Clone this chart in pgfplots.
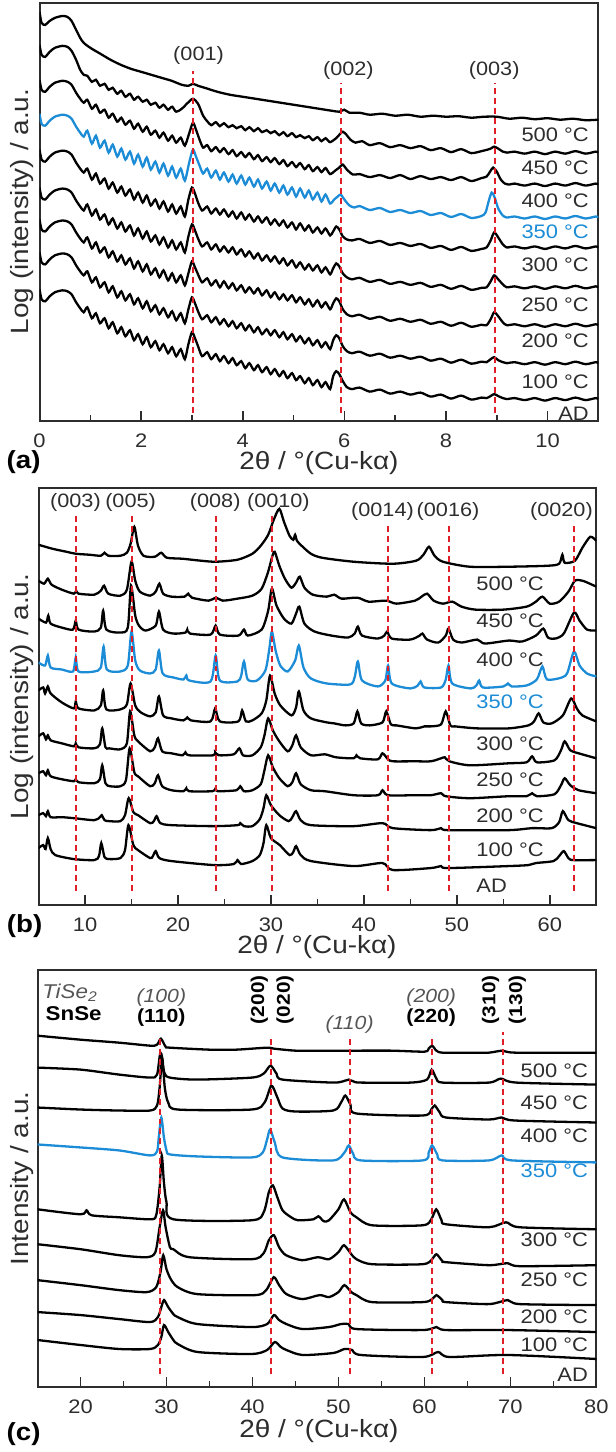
\documentclass[border=0pt]{standalone}
\usepackage{fontspec}
\setmainfont{Liberation Sans}[FakeStretch=1.12]
\usepackage{pgfplots}
\pgfplotsset{compat=1.18}
\definecolor{cblue}{RGB}{28,140,214}
\definecolor{cred}{RGB}{225,30,40}
\definecolor{axgray}{RGB}{45,45,45}
\definecolor{lblgray}{RGB}{85,85,85}
\newcommand\fs[1]{\fontsize{#1}{#1}\selectfont}
\pgfplotsset{
  xrd/.style={
    scale only axis, ymin=0, ytick=\empty,
    axis line style={axgray, line width=1pt},
    tick align=inside, xtick pos=bottom,
    major tick length=5pt, minor tick length=3pt,
    tick style={axgray, line width=0.8pt},
    minor tick num=1,
    xticklabel style={font=\fs{9.8}, text=axgray, yshift=-3pt},
    /pgf/number format/assume math mode=true,
    clip mode=individual,
  },
  crv/.style={line width=1.15pt, smooth, tension=0.45},
}
\tikzset{
  rl/.style={cred, line width=1pt, dash pattern=on 3pt off 2pt},
  tl/.style={font=\fs{9.8}, text=axgray, inner sep=0pt},
  pl/.style={font=\fs{9.7}, text=axgray, inner sep=0pt},
}
\begin{document}
\begin{tikzpicture}
\path (0pt,0pt) rectangle (305.5pt,726pt);
% ================= (a) =================
\begin{axis}[xrd, at={(18pt,515pt)}, anchor=south west, width=280pt, height=209.5pt,
  xmin=0, xmax=11, ymax=419, xtick={0,2,...,10}]
% 500
\addplot[crv, black] coordinates {(0,410)(0.04,399)(0.11,397)(0.2,401)(0.3,404)(0.45,406)(0.55,405)(0.63,401)(0.72,392)(0.8,384)(0.87,379)(1.0,374)(1.2,368)(1.4,362)(1.6,357)(1.8,353)(2.0,350)(2.2,347)(2.4,344)(2.6,341)(2.8,337)(2.93,336)(3.02,338)(3.12,336)(3.25,334)(3.5,330)(3.75,327)(4.0,325)(4.25,323)(4.5,321)(4.75,319)(5.0,317)(5.25,315)(5.5,313)(5.75,311)(5.9,310)(6.0,312)(6.1,309)(6.3,309)(6.5,307)(6.75,308)(7.0,306)(7.25,307)(7.5,305)(7.75,306)(8.0,305)(8.25,305.5)(8.5,304)(8.75,305)(9.0,305)(9.25,303)(9.5,304)(9.75,302.5)(10.0,303.5)(10.25,302)(10.5,303)(10.75,301.5)(11,302)};
% 450
\addplot[crv, black] coordinates {(0,377)(0.04,367)(0.11,365)(0.2,370)(0.3,374)(0.45,376)(0.55,375)(0.63,371)(0.72,362)(0.8,352)(0.87,347)(0.94,346)(1.03,340)(1.11,342)(1.19,336)(1.28,338)(1.36,332)(1.44,334)(1.53,328)(1.61,331)(1.69,325)(1.78,328)(1.86,322)(1.94,325)(2.03,320)(2.11,322)(2.19,317)(2.28,319)(2.36,314)(2.44,317)(2.53,312)(2.61,315)(2.69,310)(2.8,313)(2.92,319)(3.02,323)(3.12,318)(3.22,306)(3.30,300.5)(3.38,296.5)(3.47,299.5)(3.55,295.5)(3.63,298.5)(3.72,294.5)(3.80,296.5)(3.88,293.5)(3.97,295.5)(4.05,291.5)(4.13,294.5)(4.22,290.5)(4.30,293.5)(4.38,289.5)(4.47,291.5)(4.55,288.5)(4.63,290.5)(4.72,286.5)(4.80,289.5)(4.88,285.5)(4.97,288.5)(5.05,284.5)(5.13,286.5)(5.22,283.5)(5.30,285.5)(5.38,281.5)(5.47,284.5)(5.55,280.5)(5.63,283.5)(5.72,279.5)(5.85,284)(5.92,288)(5.97,290)(6.04,287)(6.12,282)(6.22,279)(6.35,280.5)(6.5,276.5)(6.7,278.5)(6.9,274.5)(7.1,276.5)(7.3,273.5)(7.5,275.5)(7.7,271.5)(7.9,273.5)(8.1,269.5)(8.3,272.5)(8.5,268.5)(8.7,270.5)(8.82,272)(8.88,273)(8.95,275)(9.03,273)(9.12,270)(9.2,269)(9.35,270)(9.55,268)(9.75,270)(9.95,267.5)(10.15,270)(10.35,268)(10.55,270.5)(10.75,268)(10.95,270)(11,269)};
% 400
\addplot[crv, black] coordinates {(0,342)(0.04,332)(0.11,330)(0.2,335)(0.3,339)(0.45,341)(0.55,340)(0.63,337)(0.72,329)(0.8,323)(0.87,319)(0.94,322)(1.03,313)(1.11,317)(1.19,309)(1.28,312)(1.36,304)(1.44,308)(1.53,300)(1.61,304)(1.69,297)(1.78,301)(1.86,293)(1.94,298)(2.03,290)(2.11,295)(2.19,287)(2.28,291)(2.36,284)(2.44,289)(2.53,281)(2.61,286)(2.69,279)(2.78,284)(2.86,276)(2.95,289)(3.02,299)(3.08,292)(3.15,282)(3.22,274)(3.30,276.5)(3.38,270.5)(3.47,274.5)(3.55,269.5)(3.63,273.5)(3.72,267.5)(3.80,271.5)(3.88,265.5)(3.97,269.5)(4.05,264.5)(4.13,268.5)(4.22,262.5)(4.30,266.5)(4.38,260.5)(4.47,264.5)(4.55,259.5)(4.63,263.5)(4.72,257.5)(4.80,261.5)(4.88,255.5)(4.97,259.5)(5.05,254.5)(5.13,258.5)(5.22,252.5)(5.30,256.5)(5.38,250.5)(5.47,254.5)(5.55,249.5)(5.63,253.5)(5.72,247.5)(5.82,251)(5.9,254)(5.97,257)(6.05,252)(6.17,247)(6.3,247.5)(6.5,244.5)(6.7,246.5)(6.9,243.5)(7.1,246.5)(7.3,242.5)(7.5,245.5)(7.7,242.5)(7.9,244.5)(8.1,241.5)(8.3,244.5)(8.5,240.5)(8.7,243.5)(8.8,245)(8.87,250)(8.93,254)(9.0,250)(9.08,242)(9.16,238)(9.25,237)(9.35,238)(9.55,236)(9.75,238)(9.95,235.5)(10.15,238)(10.35,236)(10.55,238.5)(10.75,236)(10.95,238)(11,237)};
% 350
\addplot[crv, cblue] coordinates {(0,308)(0.04,298)(0.11,296)(0.2,301)(0.3,305)(0.45,307)(0.55,306)(0.63,303)(0.72,295)(0.8,289)(0.87,285)(0.94,291)(1.03,278)(1.11,286)(1.19,274)(1.28,281)(1.36,269)(1.44,277)(1.53,265)(1.61,273)(1.69,262)(1.78,270)(1.86,258)(1.94,267)(2.03,255)(2.11,264)(2.19,252)(2.28,260)(2.36,249)(2.44,258)(2.53,246)(2.61,255)(2.69,244)(2.78,253)(2.86,241)(2.95,260)(3.02,272)(3.08,265)(3.15,256)(3.22,248)(3.30,253)(3.38,244)(3.47,251)(3.55,242)(3.63,249)(3.72,240)(3.80,247)(3.88,238)(3.97,246)(4.05,237)(4.13,244)(4.22,235)(4.30,242)(4.38,233)(4.47,240)(4.55,231)(4.63,238)(4.72,229)(4.80,236)(4.88,227)(4.97,234)(5.05,225)(5.13,233)(5.22,224)(5.30,231)(5.38,222)(5.47,229)(5.55,220)(5.63,227)(5.72,218)(5.8,222)(5.87,225)(5.93,227)(6.0,222)(6.1,216)(6.2,214)(6.3,215.5)(6.5,211.5)(6.7,213.5)(6.9,209.5)(7.1,211.5)(7.3,208.5)(7.5,210.5)(7.7,206.5)(7.9,208.5)(8.1,204.5)(8.3,207.5)(8.5,203.5)(8.7,205.5)(8.78,209)(8.84,220)(8.9,229)(8.96,224)(9.03,213)(9.12,206)(9.2,204)(9.35,205)(9.55,203)(9.75,205)(9.95,202.5)(10.15,205)(10.35,203)(10.55,205.5)(10.75,203)(10.95,205)(11,204)};
% 300
\addplot[crv, black] coordinates {(0,272)(0.04,262)(0.11,260)(0.2,265)(0.3,269)(0.45,271)(0.55,270)(0.63,267)(0.72,259)(0.8,253)(0.87,249)(0.94,253)(1.03,242)(1.11,248)(1.19,238)(1.28,243)(1.36,233)(1.44,239)(1.53,229)(1.61,235)(1.69,226)(1.78,232)(1.86,222)(1.94,229)(2.03,219)(2.11,226)(2.19,216)(2.28,222)(2.36,213)(2.44,220)(2.53,210)(2.61,217)(2.69,208)(2.78,215)(2.86,205)(2.93,222)(3.0,234)(3.06,228)(3.12,219)(3.2,211)(3.30,215)(3.38,208)(3.47,213)(3.55,207)(3.63,212)(3.72,205)(3.80,210)(3.88,203)(3.97,209)(4.05,202)(4.13,207)(4.22,200)(4.30,205)(4.38,199)(4.47,204)(4.55,197)(4.63,202)(4.72,196)(4.80,201)(4.88,194)(4.97,199)(5.05,192)(5.13,198)(5.22,191)(5.30,196)(5.38,189)(5.47,194)(5.55,188)(5.63,193)(5.72,186)(5.78,190)(5.84,195)(5.9,192)(5.97,185)(6.05,182)(6.15,181)(6.3,182.5)(6.5,178.5)(6.7,180.5)(6.9,176.5)(7.1,178.5)(7.3,175.5)(7.5,177.5)(7.7,173.5)(7.9,175.5)(8.1,171.5)(8.3,174.5)(8.5,170.5)(8.7,172.5)(8.8,174)(8.88,181)(8.95,189)(9.03,184)(9.12,177)(9.2,174)(9.35,175)(9.55,173)(9.75,175)(9.95,172.5)(10.15,175)(10.35,173)(10.55,175.5)(10.75,173)(10.95,175)(11,174)};
% 250
\addplot[crv, black] coordinates {(0,234)(0.04,224)(0.11,222)(0.2,227)(0.3,231)(0.45,233)(0.55,232)(0.63,229)(0.72,221)(0.8,215)(0.87,211)(0.94,217)(1.03,206)(1.11,212)(1.19,202)(1.28,207)(1.36,197)(1.44,203)(1.53,193)(1.61,199)(1.69,190)(1.78,196)(1.86,186)(1.94,193)(2.03,183)(2.11,190)(2.19,180)(2.28,186)(2.36,177)(2.44,184)(2.53,174)(2.61,181)(2.69,172)(2.78,179)(2.86,169)(2.93,185)(3.0,197)(3.06,191)(3.12,183)(3.2,175)(3.30,179)(3.38,172)(3.47,177)(3.55,170)(3.63,175)(3.72,169)(3.80,174)(3.88,167)(3.97,172)(4.05,165)(4.13,170)(4.22,163)(4.30,168)(4.38,161)(4.47,166)(4.55,160)(4.63,165)(4.72,158)(4.80,163)(4.88,156)(4.97,161)(5.05,154)(5.13,159)(5.22,152)(5.30,157)(5.38,151)(5.47,156)(5.55,149)(5.63,154)(5.72,147)(5.78,153)(5.84,158)(5.9,155)(5.97,148)(6.05,144)(6.15,142)(6.3,143.5)(6.5,139.5)(6.7,141.5)(6.9,137.5)(7.1,139.5)(7.3,136.5)(7.5,138.5)(7.7,134.5)(7.9,136.5)(8.1,132.5)(8.3,135.5)(8.5,131.5)(8.7,133.5)(8.8,134)(8.88,140)(8.95,146)(9.03,142)(9.12,137)(9.2,134)(9.35,135)(9.55,133)(9.75,135)(9.95,132.5)(10.15,135)(10.35,133)(10.55,135.5)(10.75,133)(10.95,135)(11,134)};
% 200
\addplot[crv, black] coordinates {(0,202)(0.04,192)(0.11,190)(0.2,195)(0.3,199)(0.45,201)(0.55,200)(0.63,197)(0.72,189)(0.8,183)(0.87,179)(0.94,184)(1.03,173)(1.11,179)(1.19,169)(1.28,174)(1.36,164)(1.44,170)(1.53,160)(1.61,166)(1.69,157)(1.78,163)(1.86,153)(1.94,160)(2.03,150)(2.11,157)(2.19,147)(2.28,153)(2.36,144)(2.44,151)(2.53,141)(2.61,148)(2.69,139)(2.78,146)(2.86,136)(2.93,148)(3.0,160)(3.06,154)(3.12,147)(3.2,139)(3.30,143)(3.38,136)(3.47,141)(3.55,134)(3.63,140)(3.72,133)(3.80,138)(3.88,131)(3.97,136)(4.05,129)(4.13,134)(4.22,128)(4.30,133)(4.38,126)(4.47,131)(4.55,124)(4.63,129)(4.72,122)(4.80,127)(4.88,121)(4.97,126)(5.05,119)(5.13,124)(5.22,117)(5.30,122)(5.38,115)(5.47,121)(5.55,114)(5.63,119)(5.72,112)(5.78,118)(5.84,123)(5.9,120)(5.97,112)(6.05,107)(6.15,105)(6.3,106.5)(6.5,102.5)(6.7,104.5)(6.9,100.5)(7.1,102.5)(7.3,99.5)(7.5,101.5)(7.7,97.5)(7.9,99.5)(8.1,95.5)(8.3,98.5)(8.5,94.5)(8.7,96.5)(8.8,96)(8.88,102)(8.95,109)(9.03,105)(9.12,99)(9.2,96)(9.35,97)(9.55,95)(9.75,97)(9.95,94.5)(10.15,97)(10.35,95)(10.55,97.5)(10.75,95)(10.95,97)(11,96)};
% 100
\addplot[crv, black] coordinates {(0,169)(0.04,159)(0.11,157)(0.2,162)(0.3,166)(0.45,168)(0.55,167)(0.63,164)(0.72,156)(0.8,150)(0.87,146)(0.94,150)(1.03,139)(1.11,144)(1.19,134)(1.28,139)(1.36,129)(1.44,135)(1.53,124)(1.61,130)(1.69,121)(1.78,127)(1.86,117)(1.94,123)(2.03,113)(2.11,120)(2.19,110)(2.28,116)(2.36,107)(2.44,113)(2.53,104)(2.61,110)(2.69,101)(2.78,108)(2.86,98)(2.93,112)(3.0,124)(3.06,118)(3.12,110)(3.2,102)(3.30,106)(3.38,99)(3.47,104)(3.55,97)(3.63,102)(3.72,95)(3.80,100)(3.88,93)(3.97,98)(4.05,91)(4.13,96)(4.22,89)(4.30,94)(4.38,87)(4.47,92)(4.55,86)(4.63,91)(4.72,84)(4.80,89)(4.88,82)(4.97,87)(5.05,80)(5.13,85)(5.22,78)(5.30,83)(5.38,76)(5.47,81)(5.55,74)(5.63,79)(5.72,72)(5.78,81)(5.84,86)(5.9,83)(5.97,75)(6.05,70)(6.15,68)(6.3,69.5)(6.5,65.5)(6.7,67.5)(6.9,63.5)(7.1,65.5)(7.3,62.5)(7.5,64.5)(7.7,60.5)(7.9,62.5)(8.1,58.5)(8.3,61.5)(8.5,57.5)(8.7,59.5)(8.8,59)(8.88,62)(8.95,64)(9.03,61)(9.12,59)(9.2,58)(9.35,59)(9.55,57)(9.75,59)(9.95,56.5)(10.15,59)(10.35,57)(10.55,59.5)(10.75,57)(10.95,59)(11,58)};
% AD
\addplot[crv, black] coordinates {(0,132)(0.04,122)(0.11,120)(0.2,125)(0.3,129)(0.45,131)(0.55,130)(0.63,127)(0.72,119)(0.8,113)(0.87,109)(0.94,114)(1.03,103)(1.11,108)(1.19,98)(1.28,103)(1.36,93)(1.44,99)(1.53,88)(1.61,94)(1.69,85)(1.78,91)(1.86,81)(1.94,87)(2.03,77)(2.11,84)(2.19,74)(2.28,80)(2.36,71)(2.44,77)(2.53,68)(2.61,74)(2.69,65)(2.78,72)(2.86,62)(2.93,77)(3.0,89)(3.06,83)(3.12,75)(3.2,65)(3.30,69)(3.38,62)(3.47,67)(3.55,60)(3.63,65)(3.72,58)(3.80,63)(3.88,56)(3.97,60)(4.05,53)(4.13,58)(4.22,51)(4.30,56)(4.38,49)(4.47,54)(4.55,47)(4.63,52)(4.72,45)(4.80,50)(4.88,43)(4.97,48)(5.05,41)(5.13,45)(5.22,38)(5.30,43)(5.38,36)(5.47,41)(5.55,34)(5.63,39)(5.72,32)(5.78,45)(5.84,50)(5.9,47)(5.97,40)(6.05,34)(6.15,32)(6.3,33.5)(6.5,29.5)(6.7,31.5)(6.9,27.5)(7.1,29.5)(7.3,26.5)(7.5,28.5)(7.7,24.5)(7.9,26.5)(8.1,22.5)(8.3,25.5)(8.5,21.5)(8.7,23.5)(8.8,23)(8.88,25)(8.95,27)(9.03,25)(9.12,23)(9.2,22)(9.35,23)(9.55,21)(9.75,23)(9.95,20.5)(10.15,23)(10.35,21)(10.55,23.5)(10.75,21)(10.95,23)(11,22)};
\draw[rl] (axis cs:3.02,8) -- (axis cs:3.02,351);
\draw[rl] (axis cs:5.93,8) -- (axis cs:5.93,339);
\draw[rl] (axis cs:8.96,8) -- (axis cs:8.96,339);
\node[pl] at (axis cs:3.13,366) {(001)};
\node[pl] at (axis cs:6.08,351) {(002)};
\node[pl] at (axis cs:8.95,351) {(003)};
\node[tl, anchor=east] at (axis cs:10.82,287) {500 °C};
\node[tl, anchor=east] at (axis cs:10.82,254) {450 °C};
\node[tl, anchor=east] at (axis cs:10.82,221) {400 °C};
\node[tl, anchor=east, text=cblue] at (axis cs:10.82,190) {350 °C};
\node[tl, anchor=east] at (axis cs:10.82,157) {300 °C};
\node[tl, anchor=east] at (axis cs:10.82,117) {250 °C};
\node[tl, anchor=east] at (axis cs:10.82,80) {200 °C};
\node[tl, anchor=east] at (axis cs:10.82,39) {100 °C};
\node[tl, anchor=east] at (axis cs:10.82,7) {AD};
\end{axis}
% ================= (b) =================
\begin{axis}[xrd, at={(17.5pt,272.5pt)}, anchor=south west, width=279.5pt, height=209pt,
  xmin=5, xmax=65, ymax=418, xtick={10,20,...,60}]
\addplot[crv, black] coordinates {(5,361)(6.5,357)(8,354)(9,352)(10.5,351)(11.7,350)(12.1,353)(12.5,350)(13.8,350)(14.5,353)(14.9,362)(15.3,379)(15.7,360)(16.3,350)(17.5,349)(18.2,353)(18.8,348)(20.5,347)(22.5,345)(24.1,344)(26.4,346)(28,352)(28.9,360)(29.7,371)(30.3,386)(30.9,397)(31.4,384)(32.0,370)(32.4,366)(32.6,371)(32.8,365)(33.3,360)(34.3,352)(35.5,348)(38.9,344)(43.1,342)(45.6,345)(46.4,351)(47.0,359)(47.6,350)(48.5,344)(51.4,339)(55.6,339)(59.8,340)(61.0,342)(61.35,351)(61.6,343)(62.7,345)(63.5,358)(64.35,369)(65,365)};
\addplot[crv, black] coordinates {(5,325)(5.6,322)(6.0,327)(6.4,321)(7.5,316)(8.8,312)(9.05,315)(9.3,312)(11.0,311)(11.7,315)(12.05,320)(12.5,312)(13.8,310)(14.5,316)(15.0,344)(15.4,325)(15.9,314)(17.0,310)(17.6,314)(18.0,322)(18.4,312)(19.3,309)(20.7,309)(21.1,312)(21.5,308)(23.3,305)(24.1,308)(24.8,305)(26.4,307)(28.0,310)(29.0,317)(29.7,334)(30.1,348)(30.4,354)(30.9,340)(31.5,327)(32.2,318)(32.7,323)(33.1,329)(33.6,318)(34.5,311)(36.0,309)(36.8,311)(37.6,307)(39.3,308)(40.5,304)(42.4,305)(43.5,302)(45.5,305)(46.2,309)(46.8,312)(47.5,305)(48.5,302)(49.5,304)(50.5,299)(52,296)(55,296)(57.5,299)(58.5,304)(59.2,309)(60.0,302)(61.0,304)(62.0,314)(62.7,325)(63.5,325)(64.3,322)(65,319)};
\addplot[crv, black] coordinates {(5,287)(5.8,283)(6.05,290)(6.3,282)(7.5,278)(8.7,276)(9.0,285)(9.3,276)(11.0,274)(11.7,278)(11.95,295)(12.3,276)(13.8,273)(14.6,278)(14.95,320)(15.4,290)(15.8,280)(16.5,275)(17.6,280)(17.95,294)(18.4,276)(19.5,272)(20.8,273)(21.0,276)(21.3,272)(23.5,271)(24.05,280)(24.5,271)(26.5,270)(27.1,276)(27.5,270)(29.0,276)(29.7,295)(30.1,317)(30.6,300)(31.4,287)(32.2,282)(32.7,292)(33.05,299)(33.6,282)(34.7,274)(36.5,270)(38.3,268)(39.0,272)(39.35,279)(39.8,270)(41.5,267)(42.2,270)(42.5,274)(43.0,267)(45.0,266)(46.0,270)(46.3,272)(46.8,266)(48.0,263)(48.8,270)(49.1,277)(49.6,266)(50.5,263)(52.2,266)(53,262)(55.6,265)(57,264)(58.5,270)(59.3,277)(59.8,268)(60.6,267)(61.5,272)(62.6,293)(63.2,285)(64.0,276)(65,275)};
\addplot[crv, cblue] coordinates {(5,243)(5.7,240)(6.0,250)(6.3,238)(7.5,236)(8.7,234)(9.0,248)(9.3,234)(11.0,234)(11.7,238)(12.0,259)(12.35,236)(13.8,234)(14.6,240)(15.0,274)(15.4,245)(15.9,235)(17.0,232)(17.6,236)(17.95,255)(18.35,232)(19.5,228)(20.6,226)(20.9,230)(21.2,225)(23.5,224)(24.05,250)(24.5,225)(26.4,224)(26.8,230)(27.1,244)(27.5,226)(28.5,225)(29.4,235)(29.8,255)(30.1,274)(30.5,255)(31.0,240)(31.8,234)(32.6,245)(33.0,260)(33.5,238)(34.3,227)(36.0,222)(38.5,221)(39.0,228)(39.35,244)(39.8,225)(41.5,219)(42.3,225)(42.6,240)(43.0,222)(45.0,217)(45.8,220)(46.1,224)(46.5,218)(48.3,218)(48.8,226)(49.1,240)(49.5,222)(51.5,217)(52.1,220)(52.4,225)(52.8,218)(55.0,219)(55.5,222)(55.9,219)(57.5,220)(58.6,226)(59.2,239)(59.7,226)(61.3,228)(61.9,233)(62.6,254)(63.2,240)(64,232)(65,229)};
\addplot[crv, black] coordinates {(5,215)(5.5,218)(5.7,212)(6.0,219)(6.3,212)(7.5,203)(8.8,197)(9.0,204)(9.3,197)(11.0,195)(11.7,200)(11.95,215)(12.3,196)(13.8,196)(14.5,201)(14.9,222)(15.4,200)(16.0,193)(17.0,189)(17.6,193)(17.95,209)(18.4,190)(19.3,187)(20.6,185)(21.0,188)(21.4,185)(23.5,184)(24.0,197)(24.5,184)(26.5,184)(26.9,195)(27.3,184)(28.0,185)(29.0,192)(29.5,205)(29.9,230)(30.4,212)(31.0,200)(32.2,190)(32.7,198)(33.0,214)(33.5,195)(34.3,187)(36.0,183)(36.8,182)(38.0,180)(38.9,182)(39.3,194)(39.7,182)(40.6,180)(42.0,183)(42.4,194)(42.9,181)(43.5,180)(45.6,177)(46.5,179)(47.2,179)(48.3,181)(48.8,194)(49.3,180)(49.8,179)(52.2,177)(55.6,177)(57.7,180)(58.3,184)(58.8,192)(59.3,183)(60.2,182)(61.4,190)(62.3,207)(62.9,197)(63.5,190)(65,184)};
\addplot[crv, black] coordinates {(5,169)(5.5,172)(5.8,166)(6.0,170)(6.3,165)(7.5,162)(8.8,159)(9.0,162)(9.3,158)(11.0,157)(11.6,161)(11.85,177)(12.2,158)(12.6,157)(13.8,156)(14.5,162)(14.85,194)(15.3,170)(15.7,164)(17.0,154)(17.5,158)(17.85,167)(18.3,154)(19.3,152)(20.5,150)(20.8,153)(21.2,150)(23.8,150)(24.0,153)(24.4,150)(26.0,151)(26.6,157)(27.0,150)(28.0,150)(28.9,158)(29.3,170)(29.7,187)(30.2,175)(30.9,164)(31.8,154)(32.3,160)(32.7,170)(33.2,158)(34.3,150)(35.8,151)(37.0,148)(38.9,147)(39.2,150)(39.6,147)(41.5,146)(42.0,152)(42.6,146)(43.1,144)(45.5,144)(47.2,144)(48.3,147)(48.7,148)(49.2,144)(51.4,140)(55.6,142)(57.5,143)(58.1,149)(58.6,143)(60.5,145)(61.2,155)(61.6,164)(62.2,155)(63.1,152)(65,147)};
\addplot[crv, black] coordinates {(5,132)(5.5,134)(5.8,130)(6.0,135)(6.3,129)(7.5,126)(8.8,124)(9.0,126)(9.3,123)(11.0,122)(11.6,126)(11.85,140)(12.2,122)(12.7,119)(13.8,119)(14.4,125)(14.8,157)(15.3,133)(15.7,129)(17.0,119)(17.5,122)(17.85,130)(18.3,119)(19.3,115)(20.6,114)(20.9,117)(21.2,114)(23.7,114)(24.0,116)(24.3,114)(26.3,115)(26.7,119)(27.1,114)(28.0,115)(28.9,121)(29.3,135)(29.7,150)(30.2,138)(30.9,127)(31.8,119)(32.3,123)(32.7,132)(33.2,121)(34.3,115)(35.8,114)(38.9,110)(41.5,110)(42.0,115)(42.6,110)(45.5,110)(47.2,110)(48.3,112)(48.8,109)(51.4,107)(55.6,109)(57.5,109)(58.1,112)(58.6,109)(60.5,111)(61.2,120)(61.6,127)(62.2,120)(63.1,115)(65,112)};
\addplot[crv, black] coordinates {(5,90)(5.5,92)(5.8,89)(6.0,94)(6.3,88)(7.5,88)(8.8,87)(11.0,85)(11.6,88)(11.8,90)(12.1,85)(12.6,84)(13.8,84)(14.3,90)(14.7,107)(15.2,93)(15.7,90)(17.0,82)(17.4,84)(17.7,89)(18.1,82)(19.3,80)(23.8,79)(26.4,80)(26.7,82)(27.1,79)(28.0,79)(28.8,86)(29.2,97)(29.5,110)(30.0,100)(30.9,90)(31.9,84)(32.3,88)(32.7,94)(33.2,85)(34.3,80)(38.9,79)(42.0,82)(43.1,77)(47.2,75)(48.3,77)(49.0,75)(55.6,75)(58.1,77)(60.2,77)(61.0,83)(61.4,94)(62.0,85)(62.9,82)(65,77)};
\addplot[crv, black] coordinates {(5,57)(5.5,60)(5.75,56)(6.0,67)(6.3,56)(6.8,50)(8.8,46)(11.0,45)(11.5,49)(11.75,62)(12.1,48)(12.6,46)(13.8,47)(14.3,55)(14.67,80)(15.2,60)(15.7,55)(17.0,47)(17.3,49)(17.6,54)(18.0,47)(19.3,44)(23.85,40)(26.0,41)(26.4,45)(26.8,41)(28.0,44)(28.8,50)(29.2,62)(29.5,80)(30.0,67)(30.95,60)(32.0,50)(32.4,53)(32.7,59)(33.2,50)(34.3,44)(38.9,39)(42.0,42)(43.1,35)(47.2,37)(48.3,39)(49.0,37)(55.6,39)(57.7,40)(58.5,42)(60.4,44)(61.0,49)(61.5,54)(62.0,47)(62.5,45)(65,45)};
\draw[rl] (axis cs:9.0,14) -- (axis cs:9.0,390);
\draw[rl] (axis cs:15.0,14) -- (axis cs:15.0,390);
\draw[rl] (axis cs:24.05,14) -- (axis cs:24.05,390);
\draw[rl] (axis cs:30.1,14) -- (axis cs:30.1,390);
\draw[rl] (axis cs:42.6,14) -- (axis cs:42.6,380);
\draw[rl] (axis cs:49.1,14) -- (axis cs:49.1,380);
\draw[rl] (axis cs:62.65,14) -- (axis cs:62.65,380);
\node[pl] at (axis cs:8.97,403) {(003)};
\node[pl] at (axis cs:14.9,403) {(005)};
\node[pl] at (axis cs:24.0,403) {(008)};
\node[pl] at (axis cs:30.8,403) {(0010)};
\node[pl] at (axis cs:42.0,394) {(0014)};
\node[pl] at (axis cs:49.05,394) {(0016)};
\node[pl] at (axis cs:61.25,394) {(0020)};
\node[tl, anchor=west] at (axis cs:52.06,322) {500 °C};
\node[tl, anchor=west] at (axis cs:52.06,285) {450 °C};
\node[tl, anchor=west] at (axis cs:52.06,246) {400 °C};
\node[tl, anchor=west, text=cblue] at (axis cs:52.06,204) {350 °C};
\node[tl, anchor=west] at (axis cs:52.06,162) {300 °C};
\node[tl, anchor=west] at (axis cs:52.06,125) {250 °C};
\node[tl, anchor=west] at (axis cs:52.06,89) {200 °C};
\node[tl, anchor=west] at (axis cs:52.06,55) {100 °C};
\node[tl, anchor=west] at (axis cs:52.06,19) {AD};
\end{axis}
% ================= (c) =================
\begin{axis}[xrd, at={(17pt,31pt)}, anchor=south west, width=280pt, height=209pt,
  xmin=15, xmax=80, ymax=418, xtick={20,30,...,80}]
\addplot[crv, black] coordinates {(15,352)(20,348)(24.5,345)(28.1,342)(28.9,343)(29.35,349)(29.9,341)(30.4,340)(35,338)(38.1,338)(41.7,340)(42.5,339)(45,337)(47.6,337)(52,337)(56.2,337)(60,336)(60.5,339)(60.9,342)(61.4,337)(62.1,335)(65.2,335)(67.5,335)(69.1,337)(70.6,335)(80,335)};
\addplot[crv, black] coordinates {(15,320)(20,318)(24.5,313)(28.1,310)(28.9,313)(29.3,335)(29.75,315)(30.4,310)(33.5,308)(39.9,310)(41.3,314)(42.1,322)(42.8,314)(43.5,308)(49.4,305)(50.8,307)(51.2,308)(51.8,306)(52.6,305)(58.4,305)(60.3,308)(60.85,318)(61.4,309)(62.1,305)(67.5,305)(68.9,309)(70.7,305)(80,303)};
\addplot[crv, black] coordinates {(15,280)(20,278)(24.5,277)(28.1,277)(28.9,282)(29.2,300)(29.5,330)(29.8,300)(30.2,285)(31.3,278)(39.9,278)(41.4,285)(42.2,302)(42.9,290)(43.5,279)(45,276)(49.4,277)(50.3,285)(50.8,292)(51.4,283)(52.1,274)(59.8,272)(60.8,278)(61.2,282)(61.8,275)(62.5,270)(67.5,268)(69.0,270)(70.5,267)(80,265)};
\addplot[crv, cblue] coordinates {(15,243)(20,240)(24.5,237)(28.1,232)(28.9,236)(29.1,250)(29.4,270)(29.7,250)(30.0,237)(30.4,233)(33.6,231)(39.9,230)(41.2,235)(41.7,248)(42.06,258)(42.6,245)(43.5,230)(49.4,227)(50.7,235)(51.2,242)(51.7,234)(52.6,227)(59.8,227)(60.5,235)(60.9,242)(61.5,233)(62.1,227)(67.5,227)(69.0,232)(70.2,227)(80,225)};
\addplot[crv, black] coordinates {(15,178)(20,173)(20.7,177)(21.3,172)(24.5,170)(28.1,168)(28.8,172)(29.2,200)(29.45,232)(29.7,205)(30.0,185)(30.8,168)(39.9,167)(41.3,175)(41.9,195)(42.37,202)(42.9,190)(43.5,177)(44.5,170)(45.3,167)(47.1,168)(47.67,171)(48.3,166)(48.9,167)(50.0,178)(50.65,188)(51.4,175)(52.1,170)(53.9,162)(59.8,162)(60.8,168)(61.38,178)(62.0,167)(62.5,163)(67.5,160)(69.5,165)(71.1,160)(80,158)};
\addplot[crv, black] coordinates {(15,143)(20,138)(24.5,132)(27.7,130)(28.7,135)(29.2,160)(29.6,177)(29.9,160)(30.4,140)(30.8,138)(32.65,130)(39.9,128)(41.3,134)(41.9,147)(42.5,152)(43.1,140)(43.9,132)(45.77,127)(47.6,130)(48.9,128)(50.0,135)(50.65,142)(51.5,133)(52.1,128)(53.9,123)(59.8,123)(60.9,128)(61.4,133)(62.1,126)(62.5,125)(67.5,122)(69.7,124)(71.1,121)(80,122)};
\addplot[crv, black] coordinates {(15,107)(20,102)(24.5,97)(27.7,95)(28.8,100)(29.3,115)(29.62,132)(30.0,118)(30.5,108)(31.3,100)(33.6,93)(40.3,92)(41.6,97)(42.47,110)(43.1,102)(43.95,93)(45.8,88)(47.8,92)(48.9,90)(50.0,95)(50.7,102)(51.5,95)(52.1,92)(53.9,85)(59.8,85)(60.9,88)(61.4,92)(62.1,87)(62.5,85)(67.5,83)(69.7,87)(71.1,83)(80,82)};
\addplot[crv, black] coordinates {(15,75)(20,72)(24.5,68)(28.1,65)(29.0,70)(29.4,80)(29.71,87)(30.2,80)(30.8,73)(31.3,70)(33.6,63)(39.9,60)(41.7,63)(42.5,72)(43.1,67)(43.95,63)(45.8,58)(48.9,60)(50.3,63)(51.2,63)(52.1,58)(59.8,57)(61.4,60)(62.5,57)(69.7,57)(80,55)};
\addplot[crv, black] coordinates {(15,47)(20,42)(24.5,38)(28.1,38)(29.0,42)(29.4,50)(29.71,62)(30.2,55)(30.8,47)(31.3,43)(33.6,35)(39.9,33)(41.7,37)(42.6,45)(43.3,40)(43.95,37)(45.8,32)(49.4,34)(50.7,38)(51.6,37)(52.6,32)(59.8,30)(61.6,35)(62.9,30)(69.7,32)(80,28)};
\draw[rl] (axis cs:29.3,13) -- (axis cs:29.3,352);
\draw[rl] (axis cs:42.2,13) -- (axis cs:42.2,352);
\draw[rl] (axis cs:51.3,13) -- (axis cs:51.3,352);
\draw[rl] (axis cs:60.85,13) -- (axis cs:60.85,352);
\draw[rl] (axis cs:69.1,13) -- (axis cs:69.1,356);
\node[font=\fs{10}\itshape, text=lblgray, inner sep=0pt, anchor=west] at (axis cs:15.5,395) {TiSe\textsubscript{2}};
\node[font=\fs{10}\bfseries, text=black, inner sep=0pt, anchor=west] at (axis cs:15.9,374) {SnSe};
\node[pl, font=\fs{9.5}\itshape, text=lblgray] at (axis cs:29.4,390) {(100)};
\node[pl, font=\fs{9.5}\bfseries, text=black] at (axis cs:29.4,370) {(110)};
\node[pl, font=\fs{9.3}\bfseries, text=black, rotate=90] at (axis cs:40.8,388) {(200)};
\node[pl, font=\fs{9.3}\bfseries, text=black, rotate=90] at (axis cs:43.8,388) {(020)};
\node[pl, font=\fs{9.5}\itshape, text=lblgray] at (axis cs:51.3,363) {(110)};
\node[pl, font=\fs{9.5}\itshape, text=lblgray] at (axis cs:60.8,390) {(200)};
\node[pl, font=\fs{9.5}\bfseries, text=black] at (axis cs:60.8,370) {(220)};
\node[pl, font=\fs{9.3}\bfseries, text=black, rotate=90] at (axis cs:67.7,388) {(310)};
\node[pl, font=\fs{9.3}\bfseries, text=black, rotate=90] at (axis cs:70.8,388) {(130)};
\node[tl, anchor=east] at (axis cs:79.07,317) {500 °C};
\node[tl, anchor=east] at (axis cs:79.07,285) {450 °C};
\node[tl, anchor=east] at (axis cs:79.07,252) {400 °C};
\node[tl, anchor=east, text=cblue] at (axis cs:79.07,217) {350 °C};
\node[tl, anchor=east] at (axis cs:79.07,147) {300 °C};
\node[tl, anchor=east] at (axis cs:79.07,107) {250 °C};
\node[tl, anchor=east] at (axis cs:79.07,70) {200 °C};
\node[tl, anchor=east] at (axis cs:79.07,42) {100 °C};
\node[tl, anchor=east] at (axis cs:79.07,12) {AD};
\end{axis}
% ---------- outer labels ----------
\node[font=\fs{12.5}, text=axgray, rotate=90] at (9pt,620pt) {Log (intensity) / a.u.};
\node[font=\fs{12.5}, text=axgray, rotate=90] at (9pt,377pt) {Log (intensity) / a.u.};
\node[font=\fs{12.5}, text=axgray, rotate=90] at (9pt,135.5pt) {Intensity / a.u.};
\node[font=\fs{12.5}, text=axgray] at (158pt,494pt) {2θ / °(Cu-kα)};
\node[font=\fs{12.5}, text=axgray] at (157pt,251.5pt) {2θ / °(Cu-kα)};
\node[font=\fs{12.5}, text=axgray] at (158pt,9pt) {2θ / °(Cu-kα)};
\node[font=\fs{12.4}\bfseries, text=black] at (10pt,494.5pt) {(a)};
\node[font=\fs{12.4}\bfseries, text=black] at (10.5pt,262pt) {(b)};
\node[font=\fs{12.4}\bfseries, text=black] at (10pt,7.5pt) {(c)};
\end{tikzpicture}
\end{document}
